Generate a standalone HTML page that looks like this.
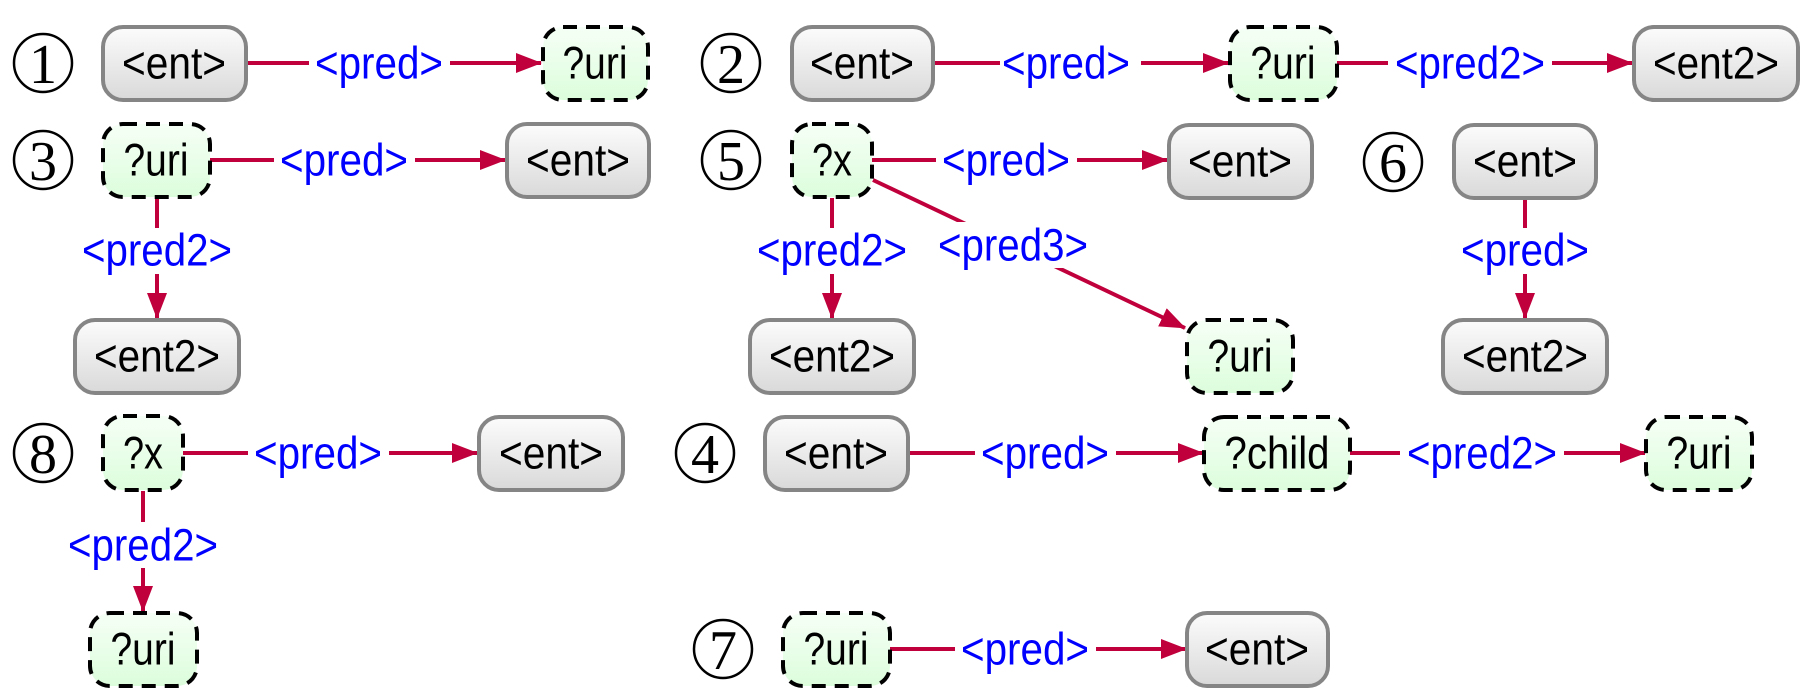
<!DOCTYPE html>
<html><head><meta charset="utf-8"><style>
html,body{margin:0;padding:0;background:#fff;}
svg{display:block;}
.t{font-family:"Liberation Sans",sans-serif;font-size:45px;fill:#000;text-anchor:middle;dominant-baseline:central;}
.l{font-family:"Liberation Sans",sans-serif;font-size:45px;fill:#0000ff;text-anchor:middle;dominant-baseline:central;}
.n{font-family:"Liberation Serif",serif;font-size:56px;fill:#000;text-anchor:middle;dominant-baseline:central;}
.e{fill:url(#g1);stroke:#858585;stroke-width:4;}
.v{fill:url(#g2);stroke:#000;stroke-width:4;stroke-dasharray:14 9;}
.ln{stroke:#c0003c;stroke-width:4;fill:none;}
.c{fill:none;stroke:#000;stroke-width:2.5;}
</style></head><body>
<svg width="1806" height="698" viewBox="0 0 1806 698" xmlns="http://www.w3.org/2000/svg">
<defs>
<linearGradient id="g1" x1="0" y1="0" x2="0" y2="1"><stop offset="0" stop-color="#fcfcfc"/><stop offset="1" stop-color="#d9d9d9"/></linearGradient>
<linearGradient id="g2" x1="0" y1="0" x2="0" y2="1"><stop offset="0" stop-color="#f6fff6"/><stop offset="1" stop-color="#dcfddc"/></linearGradient>
<marker id="a" markerWidth="26" markerHeight="20" refX="25" refY="10" orient="auto" markerUnits="userSpaceOnUse"><path d="M0,0 L26,10 L0,20 Z" fill="#c0003c"/></marker>
</defs>

<g class="ln">
<line x1="247" y1="63" x2="541" y2="63" marker-end="url(#a)"/>
<line x1="933" y1="63" x2="1228" y2="63" marker-end="url(#a)"/>
<line x1="1337" y1="63" x2="1632" y2="63" marker-end="url(#a)"/>
<line x1="210" y1="160" x2="505" y2="160" marker-end="url(#a)"/>
<line x1="157" y1="198" x2="157" y2="318" marker-end="url(#a)"/>
<line x1="872" y1="160" x2="1167" y2="160" marker-end="url(#a)"/>
<line x1="832" y1="198" x2="832" y2="318" marker-end="url(#a)"/>
<line x1="873" y1="180" x2="1185" y2="328" marker-end="url(#a)"/>
<line x1="1525" y1="198" x2="1525" y2="318" marker-end="url(#a)"/>
<line x1="183" y1="453" x2="477" y2="453" marker-end="url(#a)"/>
<line x1="143" y1="491" x2="143" y2="611" marker-end="url(#a)"/>
<line x1="908" y1="453" x2="1203" y2="453" marker-end="url(#a)"/>
<line x1="1350" y1="453" x2="1645" y2="453" marker-end="url(#a)"/>
<line x1="890" y1="649" x2="1186" y2="649" marker-end="url(#a)"/>
</g>

<g fill="#fff">
<rect x="309" y="40" width="141" height="46"/>
<rect x="1000" y="40" width="141" height="46"/>
<rect x="1388" y="40" width="164" height="46"/>
<rect x="274" y="137" width="141" height="46"/>
<rect x="76" y="228" width="164" height="46"/>
<rect x="936" y="137" width="141" height="46"/>
<rect x="751" y="228" width="164" height="46"/>
<rect x="931" y="222" width="164" height="46"/>
<rect x="1455" y="228" width="141" height="46"/>
<rect x="248" y="430" width="141" height="46"/>
<rect x="62" y="522" width="164" height="46"/>
<rect x="975" y="430" width="141" height="46"/>
<rect x="1400" y="430" width="164" height="46"/>
<rect x="955" y="626" width="141" height="46"/>
</g>
<g>
<text class="l" x="379" y="63" textLength="128" lengthAdjust="spacingAndGlyphs">&lt;pred&gt;</text>
<text class="l" x="1066" y="63" textLength="128" lengthAdjust="spacingAndGlyphs">&lt;pred&gt;</text>
<text class="l" x="1470" y="63" textLength="150" lengthAdjust="spacingAndGlyphs">&lt;pred2&gt;</text>
<text class="l" x="344" y="160" textLength="128" lengthAdjust="spacingAndGlyphs">&lt;pred&gt;</text>
<text class="l" x="157" y="250" textLength="150" lengthAdjust="spacingAndGlyphs">&lt;pred2&gt;</text>
<text class="l" x="1006" y="160" textLength="128" lengthAdjust="spacingAndGlyphs">&lt;pred&gt;</text>
<text class="l" x="832" y="250" textLength="150" lengthAdjust="spacingAndGlyphs">&lt;pred2&gt;</text>
<text class="l" x="1013" y="245" textLength="150" lengthAdjust="spacingAndGlyphs">&lt;pred3&gt;</text>
<text class="l" x="1525" y="250" textLength="128" lengthAdjust="spacingAndGlyphs">&lt;pred&gt;</text>
<text class="l" x="318" y="453" textLength="128" lengthAdjust="spacingAndGlyphs">&lt;pred&gt;</text>
<text class="l" x="143" y="545" textLength="150" lengthAdjust="spacingAndGlyphs">&lt;pred2&gt;</text>
<text class="l" x="1045" y="453" textLength="128" lengthAdjust="spacingAndGlyphs">&lt;pred&gt;</text>
<text class="l" x="1482" y="453" textLength="150" lengthAdjust="spacingAndGlyphs">&lt;pred2&gt;</text>
<text class="l" x="1025" y="649" textLength="128" lengthAdjust="spacingAndGlyphs">&lt;pred&gt;</text>
</g>

<g>
<circle class="c" cx="43" cy="63" r="29"/><text class="n" x="43" y="65">1</text>
<circle class="c" cx="731" cy="63" r="29"/><text class="n" x="731" y="65">2</text>
<circle class="c" cx="43" cy="160" r="29"/><text class="n" x="43" y="162">3</text>
<circle class="c" cx="731" cy="160" r="29"/><text class="n" x="731" y="162">5</text>
<circle class="c" cx="1393" cy="162" r="29"/><text class="n" x="1393" y="164">6</text>
<circle class="c" cx="43" cy="453" r="29"/><text class="n" x="43" y="455">8</text>
<circle class="c" cx="705" cy="453" r="29"/><text class="n" x="705" y="455">4</text>
<circle class="c" cx="723" cy="649" r="29"/><text class="n" x="723" y="651">7</text>
</g>

<g>
<rect class="e" x="103" y="27" width="143" height="73" rx="20"/><text class="t" x="174" y="63" textLength="104" lengthAdjust="spacingAndGlyphs">&lt;ent&gt;</text>
<rect class="v" x="543" y="27" width="105" height="73" rx="20"/><text class="t" x="595" y="63" textLength="65" lengthAdjust="spacingAndGlyphs">?uri</text>
<rect class="e" x="792" y="27" width="141" height="73" rx="20"/><text class="t" x="862" y="63" textLength="104" lengthAdjust="spacingAndGlyphs">&lt;ent&gt;</text>
<rect class="v" x="1230" y="27" width="107" height="73" rx="20"/><text class="t" x="1283" y="63" textLength="65" lengthAdjust="spacingAndGlyphs">?uri</text>
<rect class="e" x="1634" y="27" width="164" height="73" rx="20"/><text class="t" x="1716" y="63" textLength="126" lengthAdjust="spacingAndGlyphs">&lt;ent2&gt;</text>

<rect class="v" x="103" y="124" width="107" height="73" rx="20"/><text class="t" x="156" y="160" textLength="65" lengthAdjust="spacingAndGlyphs">?uri</text>
<rect class="e" x="507" y="124" width="142" height="73" rx="20"/><text class="t" x="578" y="160" textLength="104" lengthAdjust="spacingAndGlyphs">&lt;ent&gt;</text>
<rect class="e" x="75" y="320" width="164" height="73" rx="20"/><text class="t" x="157" y="356" textLength="126" lengthAdjust="spacingAndGlyphs">&lt;ent2&gt;</text>

<rect class="v" x="792" y="124" width="80" height="73" rx="20"/><text class="t" x="832" y="160" textLength="40" lengthAdjust="spacingAndGlyphs">?x</text>
<rect class="e" x="1169" y="125" width="143" height="73" rx="20"/><text class="t" x="1240" y="161" textLength="104" lengthAdjust="spacingAndGlyphs">&lt;ent&gt;</text>
<rect class="e" x="750" y="320" width="164" height="73" rx="20"/><text class="t" x="832" y="356" textLength="126" lengthAdjust="spacingAndGlyphs">&lt;ent2&gt;</text>
<rect class="v" x="1187" y="320" width="106" height="73" rx="20"/><text class="t" x="1240" y="356" textLength="65" lengthAdjust="spacingAndGlyphs">?uri</text>

<rect class="e" x="1454" y="125" width="142" height="73" rx="20"/><text class="t" x="1525" y="161" textLength="104" lengthAdjust="spacingAndGlyphs">&lt;ent&gt;</text>
<rect class="e" x="1443" y="320" width="164" height="73" rx="20"/><text class="t" x="1525" y="356" textLength="126" lengthAdjust="spacingAndGlyphs">&lt;ent2&gt;</text>

<rect class="v" x="103" y="416" width="80" height="74" rx="20"/><text class="t" x="143" y="453" textLength="40" lengthAdjust="spacingAndGlyphs">?x</text>
<rect class="e" x="479" y="417" width="144" height="73" rx="20"/><text class="t" x="551" y="453" textLength="104" lengthAdjust="spacingAndGlyphs">&lt;ent&gt;</text>
<rect class="v" x="90" y="613" width="107" height="73" rx="20"/><text class="t" x="143" y="649" textLength="65" lengthAdjust="spacingAndGlyphs">?uri</text>

<rect class="e" x="765" y="417" width="143" height="73" rx="20"/><text class="t" x="836" y="453" textLength="104" lengthAdjust="spacingAndGlyphs">&lt;ent&gt;</text>
<rect class="v" x="1204" y="417" width="146" height="73" rx="20"/><text class="t" x="1277" y="453" textLength="105" lengthAdjust="spacingAndGlyphs">?child</text>
<rect class="v" x="1646" y="417" width="106" height="73" rx="20"/><text class="t" x="1699" y="453" textLength="65" lengthAdjust="spacingAndGlyphs">?uri</text>

<rect class="v" x="783" y="613" width="107" height="73" rx="20"/><text class="t" x="836" y="649" textLength="65" lengthAdjust="spacingAndGlyphs">?uri</text>
<rect class="e" x="1187" y="613" width="141" height="73" rx="20"/><text class="t" x="1257" y="649" textLength="104" lengthAdjust="spacingAndGlyphs">&lt;ent&gt;</text>
</g>
</svg>
</body></html>
